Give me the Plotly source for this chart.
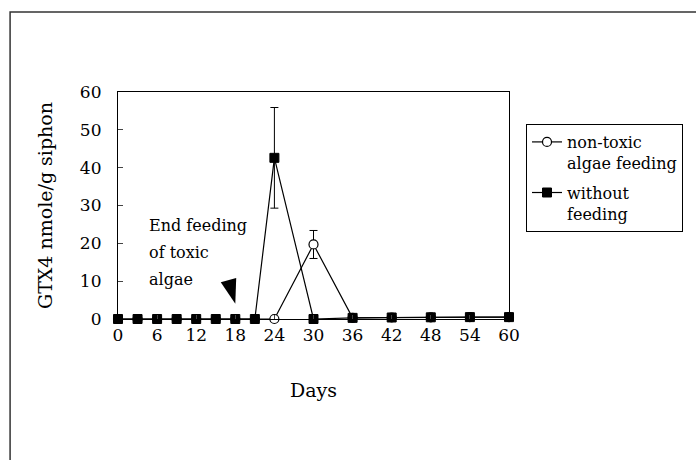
import plotly.graph_objects as go

days = [0, 3, 6, 9, 12, 15, 18, 21, 24, 30, 36, 42, 48, 54, 60]
nontoxic = [0, 0, 0, 0, 0, 0, 0, 0, 0, 19.7, 0.3, 0.4, 0.45, 0.5, 0.5]
nontoxic_err = [0, 0, 0, 0, 0, 0, 0, 0, 0, 3.7, 0, 0, 0, 0, 0]
without = [0, 0, 0, 0, 0, 0, 0, 0, 42.6, 0, 0.3, 0.4, 0.45, 0.5, 0.5]
without_err = [0, 0, 0, 0, 0, 0, 0, 0, 13.3, 0, 0, 0, 0, 0, 0]
x_ticks = [0, 6, 12, 18, 24, 30, 36, 42, 48, 54, 60]
y_ticks = [0, 10, 20, 30, 40, 50, 60]
note_lines = ["End feeding", "of toxic", "algae"]
arrow_day, arrow_val = 18.0, 4.0

FONT = "DejaVu Serif"

fig = go.Figure()
fig.add_trace(go.Scatter(
    x=days, y=nontoxic, name="non-toxic<br>algae feeding", mode="lines+markers",
    legendgroup="g1",
    line=dict(color="black", width=1.2),
    marker=dict(symbol="circle", size=9, color="white", line=dict(color="black", width=1.2)),
    error_y=dict(type="data", array=nontoxic_err, visible=True, color="black", thickness=1, width=4),
    cliponaxis=False,
))
fig.add_trace(go.Scatter(
    x=days, y=without, name="without<br>feeding", mode="lines+markers",
    legendgroup="g2",
    line=dict(color="black", width=1.2),
    marker=dict(symbol="square", size=9, color="black", line=dict(color="black", width=1)),
    error_y=dict(type="data", array=without_err, visible=True, color="black", thickness=1, width=4),
    cliponaxis=False,
))
# arrowhead marking end of toxic feeding
fig.add_trace(go.Scatter(
    x=[arrow_day], y=[arrow_val], mode="markers", showlegend=False, hoverinfo="skip",
    marker=dict(symbol="arrow", size=26, angle=164, color="black"),
    cliponaxis=False,
))

for i, t in enumerate(note_lines):
    fig.add_annotation(x=4.4, y=24.6, xref="x", yref="y", text=t, showarrow=False,
                       xanchor="left", yanchor="middle", yshift=-27 * i,
                       font=dict(family=FONT, size=16, color="black"))

# outer frame of the figure
fig.add_shape(type="rect", xref="paper", yref="paper",
              x0=-0.276, x1=1.49, y0=-0.67, y1=1.352,
              line=dict(color="#333", width=1.5), layer="below")

fig.update_layout(
    width=696, height=460,
    margin=dict(l=118, r=187, t=92, b=141),
    paper_bgcolor="white", plot_bgcolor="white",
    font=dict(family=FONT, color="black", size=17),
    showlegend=True,
    legend=dict(x=1.0435, y=0.859, xanchor="left", yanchor="top",
                bgcolor="white", bordercolor="black", borderwidth=1,
                font=dict(family=FONT, size=16, color="black"), valign="top",
                tracegroupgap=6),
    xaxis=dict(range=[0, 60], tickvals=x_ticks, ticks="inside", ticklen=4,
               showline=True, linecolor="black", linewidth=1.2, mirror=True,
               showgrid=False, zeroline=False, ticklabelstandoff=0,
               tickfont=dict(family=FONT, size=17),
               title=dict(text="Days", font=dict(family=FONT, size=19), standoff=40)),
    yaxis=dict(range=[0, 60], tickvals=y_ticks, ticks="inside", ticklen=5,
               showline=True, linecolor="black", linewidth=1.2, mirror=True,
               showgrid=False, zeroline=False, ticklabelstandoff=12,
               tickfont=dict(family=FONT, size=17),
               title=dict(text="GTX4 nmole/g siphon", font=dict(family=FONT, size=19), standoff=22)),
)

fig.write_html("out.html")
